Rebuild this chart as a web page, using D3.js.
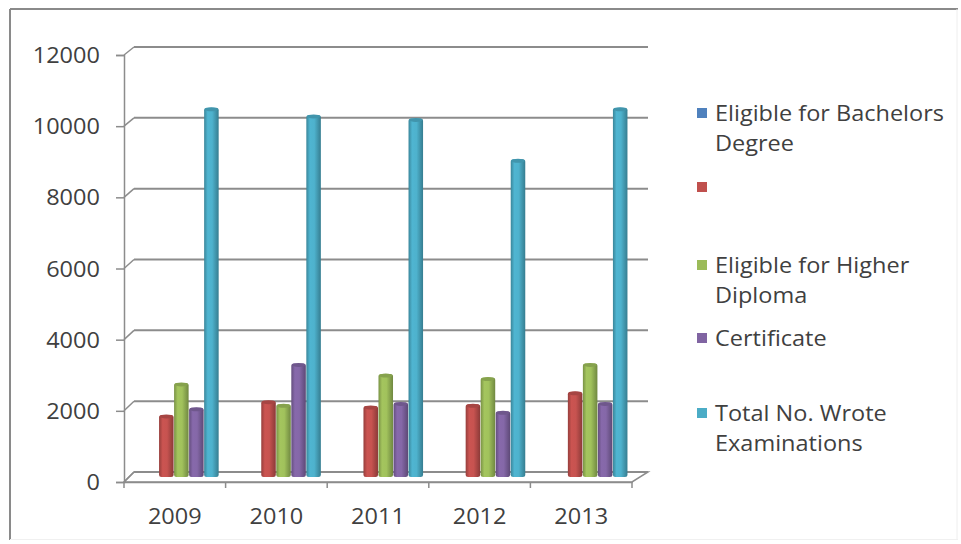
<!DOCTYPE html>
<html>
<head>
<meta charset="utf-8">
<script src="https://cdn.jsdelivr.net/npm/d3@7"></script>
<style>
  html, body { margin: 0; padding: 0; background: #ffffff; }
  svg { display: block; }
  text { font-family: "Open Sans", "DejaVu Sans", sans-serif; fill: #404040; }
</style>
</head>
<body>
<svg id="chart" width="961" height="544"></svg>
<script>
// ---- data ----
const years = ["2009", "2010", "2011", "2012", "2013"];
const seriesNames = ["Eligible for Bachelors Degree", "", "Eligible for Higher Diploma", "Certificate", "Total No. Wrote Examinations"];
const bachelors = [0, 0, 0, 0, 0];
const unnamed = [1750, 2150, 2000, 2050, 2400];
const higherDiploma = [2650, 2050, 2900, 2800, 3200];
const certificate = [1950, 3200, 2100, 1850, 2100];
const totalWrote = [10400, 10200, 10100, 8950, 10400];
const yTicks = [0, 2000, 4000, 6000, 8000, 10000, 12000];
const colors = ["#4F81BD", "#C0504D", "#9BBB59", "#8064A2", "#4BACC6"];

const seriesValues = [bachelors, unnamed, higherDiploma, certificate, totalWrote];

const FS = 21;      // font size
const SX = 1.12;    // horizontal stretch of the text

const svg = d3.select("#chart");

// outer frame
svg.append("line").attr("x1", 10).attr("y1", 9).attr("x2", 958).attr("y2", 9).attr("stroke", "#8a8a8a").attr("stroke-width", 2);
svg.append("line").attr("x1", 10).attr("y1", 9).attr("x2", 10).attr("y2", 540).attr("stroke", "#8a8a8a").attr("stroke-width", 2);
svg.append("line").attr("x1", 957).attr("y1", 9).attr("x2", 957).attr("y2", 540).attr("stroke", "#eeeeee").attr("stroke-width", 1);
svg.append("line").attr("x1", 10).attr("y1", 539.5).attr("x2", 958).attr("y2", 539.5).attr("stroke", "#f0f0f0").attr("stroke-width", 1);

// scales: front plane, back plane, mid (bar) plane
const yFront = d3.scaleLinear().domain([0, 12000]).range([482, 55]);
const yBack = d3.scaleLinear().domain([0, 12000]).range([472, 47]);
const yMid = d3.scaleLinear().domain([0, 12000]).range([477, 51]);
const xFront = d3.scaleBand().domain(years).range([124, 632]).paddingInner(0).paddingOuter(0);
const xMid = d3.scaleBand().domain(years).range([129, 640]).paddingInner(0.265).paddingOuter(0.1325);
const xSub = d3.scaleBand().domain(d3.range(seriesNames.length)).range([0, xMid.bandwidth()]).padding(0);

const gridColor = "#8c8c8c";

// back wall gridlines
svg.append("g").selectAll("line").data(yTicks).join("line")
  .attr("x1", 134).attr("x2", 648)
  .attr("y1", d => yBack(d)).attr("y2", d => yBack(d))
  .attr("stroke", gridColor).attr("stroke-width", 2);

// side wall connectors
svg.append("g").selectAll("line").data(yTicks).join("line")
  .attr("x1", 124).attr("x2", 134)
  .attr("y1", d => yFront(d)).attr("y2", d => yBack(d))
  .attr("stroke", gridColor).attr("stroke-width", 1.5);

// floor
svg.append("path")
  .attr("d", `M124,${yFront(0)} L632,${yFront(0)} L648,${yBack(0)} L134,${yBack(0)} Z`)
  .attr("fill", "none").attr("stroke", gridColor).attr("stroke-width", 1.5);

// y axis (front)
const yAxis = d3.axisLeft(yFront).tickValues(yTicks).tickSize(8).tickPadding(13.5).tickFormat(d3.format("d"));
const gy = svg.append("g").attr("transform", "translate(124,0)").call(yAxis);
gy.select(".domain").attr("stroke", gridColor).attr("stroke-width", 1.5);
gy.selectAll(".tick line").attr("stroke", gridColor).attr("stroke-width", 1.5);
gy.selectAll(".tick text").style("font-size", FS + "px").attr("fill", "#404040").attr("dy", "0.36em")
  .attr("transform", `scale(${SX},1)`);

// x axis (front)
const xAxis = d3.axisBottom(xFront).tickSize(0).tickPadding(27.5);
const gx = svg.append("g").attr("transform", `translate(0,${yFront(0)})`).call(xAxis);
gx.select(".domain").attr("stroke", gridColor).attr("stroke-width", 1.5);
gx.selectAll(".tick text").style("font-size", FS + "px").attr("fill", "#404040")
  .attr("transform", `scale(${SX},1)`);
// category boundary ticks
const bounds = years.map(d => xFront(d)).concat([xFront.range()[1]]);
svg.append("g").selectAll("line").data(bounds).join("line")
  .attr("x1", d => d).attr("x2", d => d)
  .attr("y1", yFront(0)).attr("y2", yFront(0) + 6)
  .attr("stroke", gridColor).attr("stroke-width", 1.5);

// gradients for bars
const defs = svg.append("defs");
colors.forEach((c, i) => {
  const g = defs.append("linearGradient").attr("id", "grad" + i).attr("x1", "0").attr("x2", "1").attr("y1", "0").attr("y2", "0");
  const base = d3.color(c);
  g.append("stop").attr("offset", "0%").attr("stop-color", base.darker(0.7));
  g.append("stop").attr("offset", "25%").attr("stop-color", base.brighter(0.15));
  g.append("stop").attr("offset", "55%").attr("stop-color", base.brighter(0.1));
  g.append("stop").attr("offset", "100%").attr("stop-color", base.darker(0.9));
});

// bars
const barData = [];
years.forEach((yr, yi) => {
  seriesValues.forEach((vals, si) => {
    barData.push({ yr, si, v: vals[yi] });
  });
});
const bw = xSub.bandwidth();
const bars = svg.append("g").selectAll("g").data(barData.filter(d => d.v > 0)).join("g");
bars.append("rect")
  .attr("x", d => xMid(d.yr) + 1.5 + xSub(d.si))
  .attr("y", d => yMid(d.v))
  .attr("width", bw - 0.5)
  .attr("height", d => yMid(0) - yMid(d.v))
  .attr("rx", 2.5)
  .attr("fill", d => "url(#grad" + d.si + ")");
bars.append("ellipse")
  .attr("cx", d => xMid(d.yr) + 1.5 + xSub(d.si) + (bw - 0.5) / 2)
  .attr("cy", d => yMid(d.v) + 1.5)
  .attr("rx", (bw - 0.5) / 2 - 0.5)
  .attr("ry", 2)
  .attr("fill", d => d3.color(colors[d.si]).darker(0.4));

// legend
const legendTop = [113, 187, 265, 338, 413];
const legendLines = [["Eligible for Bachelors", "Degree"], [], ["Eligible for Higher", "Diploma"], ["Certificate"], ["Total No. Wrote", "Examinations"]];
const lg = svg.append("g").selectAll("g").data(seriesNames).join("g")
  .attr("transform", (d, i) => `translate(697,${legendTop[i]})`);
lg.append("rect").attr("x", 0).attr("y", -5).attr("width", 10).attr("height", 10)
  .attr("fill", (d, i) => colors[i]);
lg.each(function (d, i) {
  const t = d3.select(this).append("text").attr("transform", `scale(${SX},1)`).style("font-size", FS + "px");
  legendLines[i].forEach((ln, k) => {
    t.append("tspan").attr("x", 18 / SX).attr("y", k * 30).attr("dy", "0.36em").text(ln);
  });
});
</script>
</body>
</html>
